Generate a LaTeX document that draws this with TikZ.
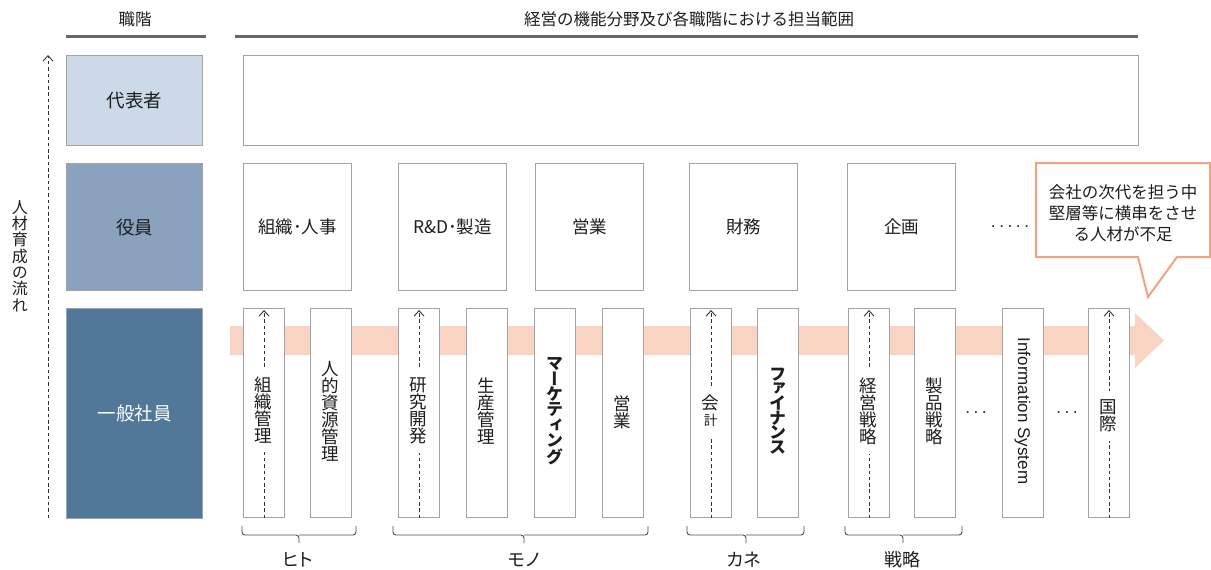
\documentclass[tikz,border=0pt]{standalone}
\usepackage{fontspec}
\setmainfont{Noto Sans CJK JP}
\newfontfamily\jpv[RawFeature=+vert]{Noto Sans CJK JP}
\newfontfamily\jpp[RawFeature=+palt]{Noto Sans CJK JP}
\newfontfamily\arialf{Liberation Sans}
\usetikzlibrary{arrows.meta}
\definecolor{lvA}{HTML}{CCD9E8}
\definecolor{lvB}{HTML}{8AA2BE}
\definecolor{lvC}{HTML}{517799}
\definecolor{bandc}{HTML}{F9D4C3}
\definecolor{callc}{HTML}{F0A385}
\definecolor{edgec}{HTML}{A3A3A3}
\definecolor{txt}{HTML}{1E1E1E}
\definecolor{hdrc}{HTML}{666666}
\begin{document}
\begin{tikzpicture}[x=1pt,y=-1pt,
  lvbox/.style={draw=edgec, line width=1.1pt, minimum width=136pt, anchor=north west, inner sep=0pt, font=\fontsize{18.5}{18.5}\selectfont, text=txt},
  rolebox/.style={draw=edgec, line width=1.1pt, fill=white, minimum width=108pt, minimum height=127pt, anchor=north west, inner sep=0pt, font=\fontsize{17.5}{17.5}\selectfont, text=txt},
  barbox/.style={draw=edgec, line width=1.1pt, fill=white, minimum width=41pt, minimum height=209pt, anchor=north west, inner sep=0pt},
  vlab/.style={font=\jpv\fontsize{17.5}{17}\selectfont, align=center, text=txt, inner xsep=1pt, inner ysep=0pt},
  dlab/.style={vlab, fill=white, inner ysep=9pt},
  dasharr/.style={draw=black!80, line width=0.9pt, dash pattern=on 3.5pt off 2.8pt, -{Straight Barb[length=5.5pt,width=10pt,line width=0.9pt]}},
  hdrline/.style={draw=hdrc, line width=3pt},
  hdrtext/.style={font=\fontsize{16.5}{16.5}\selectfont, text=txt},
  brc/.style={draw=black!70, line width=0.9pt, rounded corners=3pt},
  brlab/.style={font=\jpp\fontsize{18}{18}\selectfont, text=txt},
  dotsty/.style={font=\arialf\bfseries\fontsize{12}{12}\selectfont, text=black!85, inner sep=0pt}
]
\useasboundingbox (0,0) rectangle (1211,570);
\fill[white] (0,0) rectangle (1211,570);

% headers
\node[hdrtext] (h1) at (135,19) {職階};
\node[hdrtext] (h2) at (689,19) {経営の機能分野及び各職階における担当範囲};
\coordinate (l1a) at (66,36); \coordinate (l1b) at (206,36);
\coordinate (l2a) at (235,36); \coordinate (l2b) at (1138,36);
\draw[hdrline] (l1a) -- (l1b);
\draw[hdrline] (l2a) -- (l2b);

% left flow arrow and label
\coordinate (fb) at (48,518); \coordinate (ft) at (48,55);
\draw[dasharr] (fb) -- (ft);
\node[font=\jpv\fontsize{16}{16.3}\selectfont, align=center, text=txt, inner sep=0pt] (flow) at (20,256) {人\\材\\育\\成\\の\\流\\れ};

% level boxes
\node[lvbox, fill=lvA, minimum height=90pt] (dai) at (66,55) {代表者};
\node[lvbox, fill=lvB, minimum height=127pt] (yaku) at (66,163) {役員};
\node[lvbox, fill=lvC, minimum height=210pt, text=white] (ippan) at (66,308) {一般社員};

% top wide box
\node[draw=edgec, line width=1.1pt, minimum width=895pt, minimum height=90pt, anchor=north west, inner sep=0pt] (topbox) at (243,55) {};

% role boxes
\node[rolebox] (r1) at (243,163) {組織･人事};
\node[rolebox] (r2) at (398,163) {R\&D･製造};
\node[rolebox] (r3) at (535,163) {営業};
\node[rolebox] (r4) at (689,163) {財務};
\node[rolebox] (r5) at (847,163) {企画};
\node[dotsty] (dots1) at (1010,227) {.\kern5pt.\kern5pt.\kern5pt.\kern5pt.};

% callout
\draw[draw=callc, line width=2pt, fill=white, line join=miter] (1036,163) -- (1210,163) -- (1210,257) -- (1177,257) -- (1148,297) -- (1138,257) -- (1036,257) -- cycle;
\node[font=\fontsize{16.5}{21}\selectfont, align=center, text=txt] (callout) at (1123,213) {会社の次代を担う中\\堅層等に横串をさせ\\る人材が不足};

% band arrow
\fill[bandc] (230,326) -- (1135,326) -- (1135,313) -- (1164,340.5) -- (1135,368) -- (1135,355) -- (230,355) -- cycle;

% bars
\node[barbox] (b1) at (243,308) {};
\node[barbox] (b2) at (310,308) {};
\node[barbox] (b3) at (398,308) {};
\node[barbox] (b4) at (466,308) {};
\node[barbox] (b5) at (534,308) {};
\node[barbox] (b6) at (602,308) {};
\node[barbox] (b7) at (690,308) {};
\node[barbox] (b8) at (757,308) {};
\node[barbox] (b9) at (848,308) {};
\node[barbox] (b10) at (914,308) {};
\node[barbox] (b11) at (1002,308) {};
\node[barbox] (b12) at (1088,308) {};

% dashed arrows in bars
\foreach \b in {b1,b3,b7,b9,b12}{
  \draw[dasharr] (\b.south) -- ([yshift=-2pt]\b.north);
}

% bar labels
\node[dlab] (t1) at (263.5,410) {組\\織\\管\\理};
\node[vlab] (t2) at (330.5,411) {人\\的\\資\\源\\管\\理};
\node[dlab] (t3) at (418.5,411) {研\\究\\開\\発};
\node[vlab] (t4) at (486.5,411) {生\\産\\管\\理};
\node[vlab, font=\jpv\bfseries\fontsize{17}{15.4}\selectfont] (t5) at (554.5,411) {マ\\ー\\ケ\\テ\\ィ\\ン\\グ};
\node[vlab] (t6) at (622.5,412) {営\\業};
\node[dlab] (t7) at (710.5,411) {会\\[-1pt]{\fontsize{13.5}{13.5}\selectfont 計}};
\node[vlab, font=\jpv\bfseries\fontsize{17}{14.6}\selectfont] (t8) at (777.5,411) {フ\\ァ\\イ\\ナ\\ン\\ス};
\node[dlab] (t9) at (868.5,411) {経\\営\\戦\\略};
\node[vlab] (t10) at (934.5,411) {製\\品\\戦\\略};
\node[font=\arialf\fontsize{17}{17}\selectfont, text=txt, rotate=-90, inner sep=0pt] (t11) at (1022.5,411) {Information System};
\node[dlab] (t12) at (1108.5,416) {国\\際};

\node[dotsty] (dots2) at (976,413) {.\kern5pt.\kern5pt.};
\node[dotsty] (dots3) at (1067,413) {.\kern5pt.\kern5pt.};

% braces
\draw[brc] (242,526) |- (299,535) -- (299,543);
\draw[brc] (356,526) |- (299,535);
\draw[brc] (393,526) |- (524,535) -- (524,543);
\draw[brc] (648,526) |- (524,535);
\draw[brc] (687,526) |- (746,535) -- (746,543);
\draw[brc] (804,526) |- (746,535);
\draw[brc] (845,526) |- (903,535) -- (903,543);
\draw[brc] (962,526) |- (903,535);

\node[brlab] (g1) at (298,560) {ヒト};
\node[brlab] (g2) at (524,560) {モノ};
\node[brlab] (g3) at (744,560) {カネ};
\node[brlab] (g4) at (902,560) {戦略};
\end{tikzpicture}
\end{document}
